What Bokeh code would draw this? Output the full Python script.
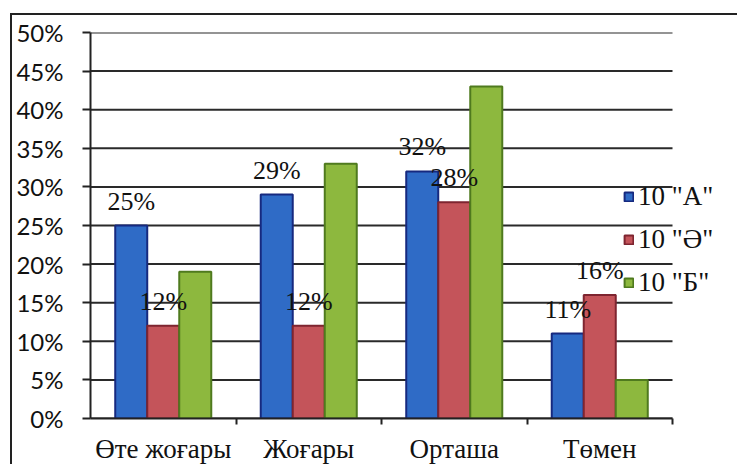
from bokeh.plotting import figure
from bokeh.models import (ColumnDataSource, FixedTicker, NumeralTickFormatter,
                          Legend, LegendItem)
from bokeh.core.properties import value
from bokeh.embed import file_html
from bokeh.resources import INLINE

categories = ["Өте жоғары", "Жоғары", "Орташа", "Төмен"]
series_names = ['10 "А"', '10 "Ә"', '10 "Б"']
vals_a = [0.25, 0.29, 0.32, 0.11]
vals_e = [0.12, 0.12, 0.28, 0.16]
vals_b = [0.19, 0.33, 0.43, 0.05]
labels_a = ["25%", "29%", "32%", "11%"]
labels_e = ["12%", "12%", "28%", "16%"]
y_ticks = [0, 0.05, 0.10, 0.15, 0.20, 0.25, 0.30, 0.35, 0.40, 0.45, 0.50]

fills = ["#2f6bc6", "#c4545a", "#8db83e"]
edges = ["#16297f", "#7e2530", "#4f7a1e"]
offsets = [-0.22, 0.0, 0.22]
bar_w = 0.22

n = len(categories)
W, H = 727, 451
left_b, right_b, top_b, bottom_b = 78, 14, 17, 48
frame_w = W - left_b - right_b
x_end = n * frame_w / 582.0

p = figure(width=W, height=H, output_backend="svg", toolbar_location=None,
           x_range=(0, x_end), y_range=(0, 0.5),
           min_border_left=left_b, min_border_right=right_b,
           min_border_top=top_b, min_border_bottom=bottom_b)
p.outline_line_color = None
p.background_fill_color = "white"
p.border_fill_color = "white"
p.styles = {"border-left": "2px solid #222222", "border-top": "2px solid #222222",
            "margin-left": "10px", "margin-top": "13px"}

# horizontal grid lines limited to the category area
p.segment(x0=[0] * len(y_ticks), x1=[n] * len(y_ticks), y0=y_ticks, y1=y_ticks,
          line_color="#2a2a2a", line_width=2)

centers = [i + 0.5 for i in range(n)]
renderers = []
for k, vals in enumerate([vals_a, vals_e, vals_b]):
    src = ColumnDataSource(dict(x=[c + offsets[k] for c in centers], top=vals))
    r = p.vbar(x="x", top="top", width=bar_w, source=src,
               fill_color=fills[k], line_color=edges[k], line_width=2)
    renderers.append(r)

for k, (vals, labs) in enumerate([(vals_a, labels_a), (vals_e, labels_e)]):
    src = ColumnDataSource(dict(x=[c + offsets[k] for c in centers], y=vals, t=labs))
    p.text(x="x", y="y", text="t", source=src, text_align="center",
           text_baseline="bottom", y_offset=-10,
           text_font=value("Liberation Serif"), text_font_size="26px",
           text_color="#111111")

# axes
p.yaxis.ticker = FixedTicker(ticks=y_ticks)
p.yaxis.formatter = NumeralTickFormatter(format="0%")
p.yaxis.major_label_text_font = "Lato"
p.yaxis.major_label_text_font_size = "24px"
p.yaxis.major_label_text_color = "#111111"
p.yaxis.major_tick_out = 8
p.yaxis.major_tick_in = 0
p.yaxis.minor_tick_line_color = None
p.yaxis.major_label_standoff = 19
p.yaxis.axis_line_width = 2
p.yaxis.axis_line_color = "#222222"
p.yaxis.major_tick_line_width = 2
p.yaxis.major_tick_line_color = "#222222"

p.xaxis.bounds = (0, n)
p.xaxis.ticker = FixedTicker(ticks=centers, minor_ticks=list(range(1, n + 1)))
p.xaxis.major_label_overrides = {c: lab for c, lab in zip(centers, categories)}
p.xaxis.major_label_text_font = "Liberation Serif"
p.xaxis.major_label_text_font_size = "27px"
p.xaxis.major_label_text_color = "#111111"
p.xaxis.major_tick_line_color = None
p.xaxis.major_tick_out = 0
p.xaxis.major_tick_in = 0
p.xaxis.minor_tick_out = 6
p.xaxis.minor_tick_in = 0
p.xaxis.minor_tick_line_width = 2
p.xaxis.minor_tick_line_color = "#222222"
p.xaxis.major_label_standoff = 9
p.xaxis.axis_line_width = 2
p.xaxis.axis_line_color = "#222222"

p.xgrid.grid_line_color = None
p.ygrid.grid_line_color = None

legend = Legend(items=[LegendItem(label=s, renderers=[r]) for s, r in zip(series_names, renderers)],
                location=(533, 120), glyph_width=11, glyph_height=11,
                label_text_font="Liberation Serif", label_text_font_size="27px",
                label_text_color="#111111", label_height=20, spacing=12,
                label_standoff=4, padding=0, margin=0,
                border_line_color=None, background_fill_alpha=0)
p.add_layout(legend)

open("out.html", "w").write(file_html(p, INLINE))
